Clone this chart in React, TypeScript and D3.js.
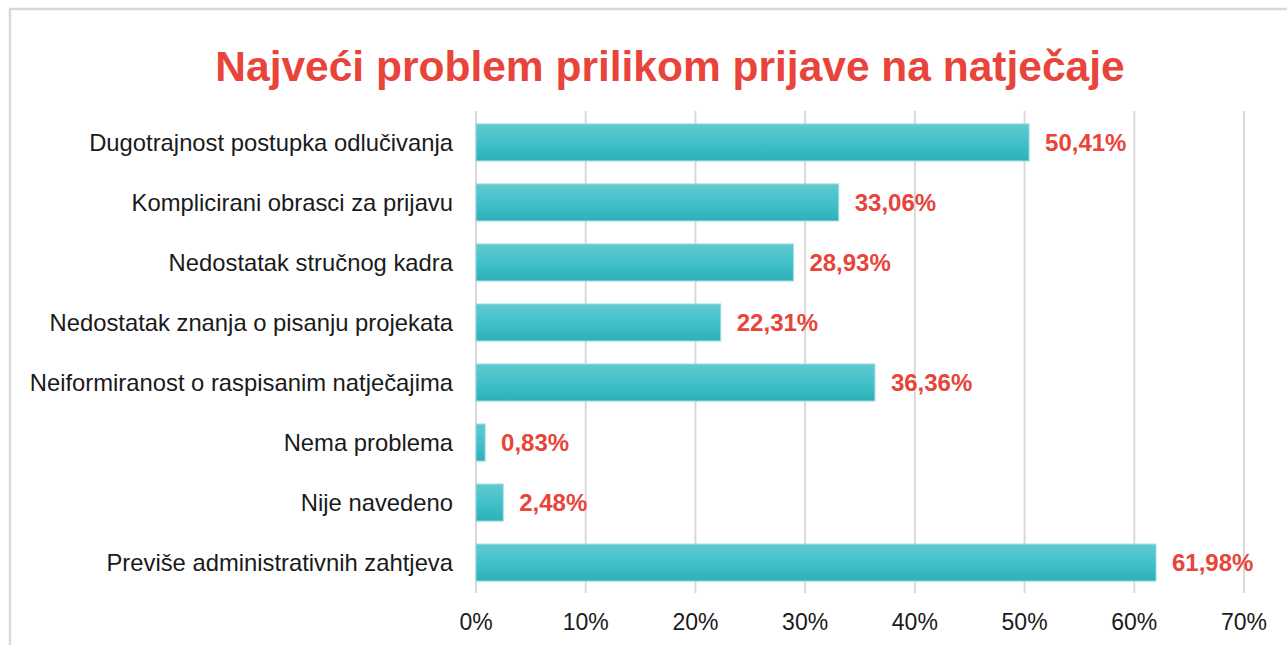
import { scaleBand, scaleLinear } from 'd3'

const categories = [
  'Dugotrajnost postupka odlučivanja',
  'Komplicirani obrasci za prijavu',
  'Nedostatak stručnog kadra',
  'Nedostatak znanja o pisanju projekata',
  'Neiformiranost o raspisanim natječajima',
  'Nema problema',
  'Nije navedeno',
  'Previše administrativnih zahtjeva',
]
const values = [50.41, 33.06, 28.93, 22.31, 36.36, 0.83, 2.48, 61.98]
const ticks = [0, 10, 20, 30, 40, 50, 60, 70]

const width = 1287
const height = 645
const left = 476
const right = 1244
const top = 111
const bottom = 591
const red = '#e8443a'
const font = 'Arial, "Liberation Sans", sans-serif'

const x = scaleLinear().domain([0, 70]).range([left, right])
const y = scaleBand().domain(categories).range([top + 1.5, bottom + 1.5]).paddingInner(0.383).paddingOuter(0.19)

const fmt = (v: number) => v.toFixed(2).replace('.', ',') + '%'

function App() {
  return (
    <svg width={width} height={height} style={{ position: 'absolute', left: 0, top: 0 }} fontFamily={font}>
      <defs>
        <linearGradient id="bar" x1="0" y1="0" x2="0" y2="1">
          <stop offset="0%" stopColor="#62c9cf" />
          <stop offset="50%" stopColor="#42c1ca" />
          <stop offset="100%" stopColor="#2eb0b9" />
        </linearGradient>
      </defs>
      <rect width={width} height={height} fill="#fff" />
      <rect x={10} y={9} width={1400} height={800} fill="none" stroke="#d9d9d9" strokeWidth={2.5} />

      <text x={670} y={81} textAnchor="middle" fontSize={42.5} fontWeight="bold" fill={red}>
        Najveći problem prilikom prijave na natječaje
      </text>

      {ticks.map(t => (
        <g key={t}>
          <line x1={x(t)} x2={x(t)} y1={top} y2={593} stroke="#d9d9d9" strokeWidth={2} />
          <text x={x(t)} y={630} textAnchor="middle" fontSize={23} fill="#1a1a1a">
            {t}%
          </text>
        </g>
      ))}

      {categories.map((c, i) => {
        const yy = y(c) ?? 0
        const bw = y.bandwidth()
        return (
          <g key={c}>
            <rect x={x(0)} y={yy} width={x(values[i]) - x(0)} height={bw} fill="url(#bar)" stroke="#9adde1" strokeWidth={1} />
            <text x={453} y={yy + bw / 2} dy="0.35em" textAnchor="end" fontSize={23.8} fill="#1a1a1a">
              {c}
            </text>
            <text x={x(values[i]) + 16} y={yy + bw / 2} dy="0.35em" fontSize={24} fontWeight="bold" fill={red}>
              {fmt(values[i])}
            </text>
          </g>
        )
      })}
    </svg>
  )
}

export default App
